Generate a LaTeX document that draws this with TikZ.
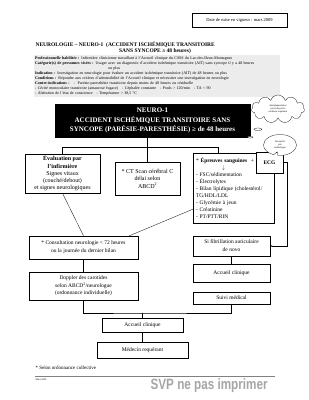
\documentclass[tikz,border=0pt]{standalone}
\usepackage{fontspec}
\usepackage{graphicx}
\setmainfont{Liberation Serif}
\newfontfamily\svpfont{Liberation Sans}
\usetikzlibrary{shapes.symbols,shapes.callouts,arrows.meta}
\newcommand{\fsz}[2]{\fontsize{#1}{#2}\selectfont}

\begin{document}
\begin{tikzpicture}[x=2pt,y=-2pt,
  every node/.style={inner sep=1pt},
  box/.style={draw,line width=.6pt,align=center,font=\fsz{11}{15}},
  link/.style={line width=.6pt},
  bubble/.style={draw,fill=white,line width=.5pt,align=center,font=\fsz{5}{6}}]
\useasboundingbox[fill=white] (0,0) rectangle (309,400);
% header
\node[box,font=\fsz{9}{11},minimum width=190pt,minimum height=28pt] (date) at (239.5,20) {Date de mise en vigueur : mars 2009};
\node[anchor=west,font=\bfseries\fsz{11}{13}] (titA) at (35,45) {NEUROLOGIE -- NEURO-1\ \ (ACCIDENT ISCHÉMIQUE TRANSITOIRE};
\node[font=\bfseries\fsz{11}{13}] (titB) at (155,51) {SANS SYNCOPE ≥ 48 heures)};
\node[anchor=north west,fill=gray!15,text width=488pt,minimum height=84pt,inner sep=2pt,align=left,font=\fsz{8}{10}] (info) at (34,55)
 {\textbf{Professionnelle habilitée :} Infirmière clinicienne travaillant à l'Accueil clinique du CSSS du Lac-des-Deux-Montagnes\\
  \textbf{Catégorie(s) de personnes visées :} Usager avec un diagnostic d'accident ischémique transitoire (AIT) sans syncope il y a 48 heures\\
  \hspace*{146pt}ou plus\\
  \textbf{Indication :} Investigation en neurologie pour évaluer un accident ischémique transitoire (AIT) de 48 heures ou plus\\
  \textbf{Conditions :} Répondre aux critères d'admissibilité de l'Accueil clinique et nécessiter une investigation en neurologie\\
  \textbf{Contre-indications :}\ \ \ -\ \ Parésie-paresthésie transitoire depuis moins de 48 heures ou résiduelle\\
  - Cécité monoculaire transitoire (amaurose fugace)\ \ \ - Céphalée constante\ \ \ - Pouls > 120/min\ \ \ - TA < 90\\
  - Altération de l'état de conscience\ \ \ - Température > 38,5 °C};
% flow
\node[box,fill=black,text=white,font=\bfseries\fsz{14}{19},minimum width=390pt,minimum height=66pt] (neuro) at (152.5,120.5)
 {NEURO-1\\ACCIDENT ISCHÉMIQUE TRANSITOIRE SANS\\SYNCOPE (PARÉSIE-PARESTHÉSIE) ≥\ de 48 heures};
\node[box,font=\fsz{12}{14.5},minimum width=150pt,minimum height=78pt] (eval) at (62.5,173.5)
 {\textbf{Évaluation par}\\\textbf{l'infirmière}\\Signes vitaux\\(couché/debout)\\et signes neurologiques};
\node[box,font=\fsz{12}{15},minimum width=130pt,minimum height=66pt] (ct) at (147.5,178.5)
 {* CT Scan cérébral C\\délai selon\\ABCD\textsuperscript{2}};
\node[box,align=left,text width=152pt,inner sep=5pt,minimum height=140pt,font=\fsz{11}{14}] (epr) at (234,188)
 {* \textbf{Épreuves sanguines}\ \ +\\\hspace*{52pt}$\downarrow$\\- FSC/sédimentation\\- Électrolytes\\- Bilan lipidique (cholestérol/\\TG/HDL/LDL\\- Glycémie à jeun\\- Créatinine\\- PT/PTT/RIN};
\node[box,fill=white,font=\bfseries\fsz{11}{13},minimum width=54pt,minimum height=42pt] (ecg) at (269.5,162.5) {ECG};
\node[box,minimum width=218pt,minimum height=46pt,font=\fsz{11}{16}] (consult) at (83.5,247.5)
 {* Consultation neurologie < 72 heures\\ou la journée du dernier bilan};
\node[box,minimum width=154pt,minimum height=40pt,font=\fsz{11}{16}] (fib) at (231.5,246) {Si fibrillation auriculaire\\de novo};
\node[box,minimum width=154pt,minimum height=36pt] (accR) at (231.5,273) {Accueil clinique};
\node[box,minimum width=154pt,minimum height=24pt] (suivi) at (231.5,298) {Suivi médical};
\node[box,minimum width=218pt,minimum height=56pt] (doppler) at (83.5,286)
 {Doppler des carotides\\selon ABCD\textsuperscript{2}/neurologue\\(ordonnance individuelle)};
\node[box,minimum width=162pt,minimum height=28pt] (accL) at (142.5,325) {Accueil clinique};
\node[box,minimum width=182pt,minimum height=32pt] (medecin) at (142.5,350) {Médecin requérant};
% bubbles
\node[bubble,cloud callout,cloud puffs=11,aspect=1.9,minimum width=106pt,minimum height=56pt,
  callout absolute pointer={(neuro.south east)}] (antip) at (278,109) {Antiplaquettaires\\prescrits par le\\médecin requérant};
\node[bubble,ellipse callout,minimum width=66pt,minimum height=42pt,
  callout absolute pointer={([xshift=-12pt]ecg.north east)}] (interp) at (280,145) {Interprété\\par\\cardiologue};
% connectors
\coordinate (jn) at (62.5,147);
\coordinate (eprj) at (218,147);
\coordinate (jlow) at (142.5,313);
\coordinate (ecgr) at (287,162.5);
\draw[link] (ct.north |- neuro.south) -- (ct.north);
\draw[link] (eval.north) -- (jn) -- (eprj) -- (eprj |- epr.north);
\draw[link] (eval.south) -- (consult.north);
\draw[link] ([yshift=-42pt]epr.west) -- ([xshift=-18pt]consult.north east);
\draw[link] (consult.south) -- (doppler.north);
\draw[link] (doppler.south) |- (jlow) -| (suivi.south);
\draw[link] (jlow) -- (accL.north);
\draw[link] (accL.south) -- (medecin.north);
\draw[link] (fib.south) -- (accR.north);
\draw[link,-{Latex[length=4pt,width=3pt]}] (ecg.east) -- (ecgr) |- (fib.east);
% footer
\node[anchor=west,font=\fsz{10}{12}] (note) at (35,368) {* Selon ordonnance collective};
\draw[gray,line width=.6pt] (35,376) -- (275,376);
\node[anchor=west,font=\fsz{5}{6}] (mars) at (35,379.5) {Mars 2009};
\node[anchor=west,text=gray!70,font=\svpfont\bfseries\fsz{30}{30}] (svp) at (150,386) {\scalebox{.78}[1]{SVP ne pas imprimer}};
\end{tikzpicture}
\end{document}
